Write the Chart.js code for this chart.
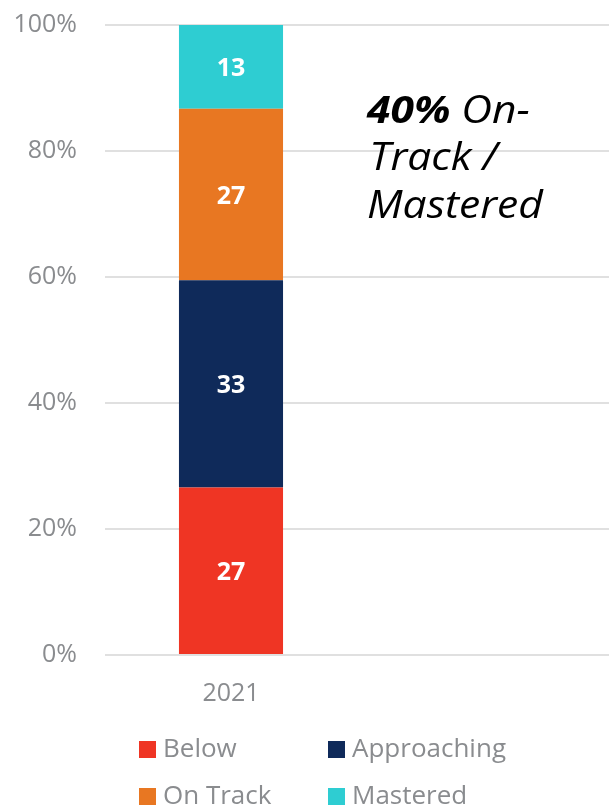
<!DOCTYPE html>
<html>
<head>
<meta charset="utf-8">
<script src="https://cdn.jsdelivr.net/npm/chart.js@4.4.0/dist/chart.umd.min.js"></script>
<style>
html, body { margin: 0; padding: 0; background: #fff; }
#wrap { width: 609px; height: 808px; }
</style>
</head>
<body>
<div id="wrap"><canvas id="myChart"></canvas></div>
<script>
// data
const years = ['2021', ''];
const below = [26.6, null];
const approaching = [32.9, null];
const onTrack = [27.2, null];
const mastered = [13.3, null];
const yTicks = [0, 20, 40, 60, 80, 100];

const grey = '#8a8c8f';
Chart.defaults.font.family = "'Open Sans', sans-serif";

// white numbers in the middle of each segment
const barLabels = {
	id: 'barLabels',
	afterDatasetsDraw(chart) {
		const ctx = chart.ctx;
		ctx.save();
		ctx.font = "bold 25px 'Open Sans'";
		ctx.fillStyle = '#fff';
		ctx.textAlign = 'center';
		ctx.textBaseline = 'middle';
		chart.data.datasets.forEach((ds, i) => {
			chart.getDatasetMeta(i).data.forEach((bar, j) => {
				const v = ds.data[j];
				if (v == null) return;
				ctx.fillText(Math.round(v), bar.x, (bar.y + bar.base) / 2 + 2);
			});
		});
		ctx.restore();
	}
};

// two column legend under the axis
const gridLegend = {
	id: 'gridLegend',
	afterDraw(chart) {
		const ctx = chart.ctx;
		const cols = [139, 328];
		const rows = [749, 796];
		ctx.save();
		ctx.font = "26px 'Open Sans'";
		ctx.textBaseline = 'middle';
		chart.data.datasets.forEach((ds, i) => {
			const x = cols[i % 2];
			const y = rows[Math.floor(i / 2)];
			ctx.fillStyle = ds.backgroundColor;
			ctx.fillRect(x, y - 8, 17, 17);
			ctx.fillStyle = grey;
			ctx.fillText(ds.label, x + 24, y + 1);
		});
		ctx.restore();
	}
};

// callout text (a touch wider than Open Sans italic)
const callout = {
	id: 'callout',
	afterDraw(chart) {
		const ctx = chart.ctx;
		ctx.save();
		ctx.translate(367, 0);
		ctx.scale(1.12, 1);
		ctx.fillStyle = '#000';
		ctx.textBaseline = 'alphabetic';
		ctx.font = "italic bold 38px 'Open Sans'";
		ctx.fillText('40%', 0, 123);
		const w = ctx.measureText('40% ').width;
		ctx.font = "italic 38px 'Open Sans'";
		ctx.fillText('On-', w, 123);
		ctx.fillText('Track /', 2, 170);
		ctx.fillText('Mastered', 0, 218);
		ctx.restore();
	}
};

const ctx = document.getElementById('myChart').getContext('2d');
const myChart = new Chart(ctx, {
	type: 'bar',
	data: {
		labels: years,
		datasets: [
			{ label: 'Below', data: below, backgroundColor: '#ef3524' },
			{ label: 'Approaching', data: approaching, backgroundColor: '#0f2a5a' },
			{ label: 'On Track', data: onTrack, backgroundColor: '#e87722' },
			{ label: 'Mastered', data: mastered, backgroundColor: '#2ecdd2' }
		]
	},
	options: {
		responsive: true,
		maintainAspectRatio: false,
		animation: false,
		categoryPercentage: 1,
		barPercentage: 0.413,
		layout: { padding: { top: 25, right: 0, left: 0, bottom: 0 } },
		plugins: {
			legend: { display: false },
			tooltip: { enabled: false }
		},
		scales: {
			x: {
				stacked: true,
				grid: { display: false },
				border: { display: false },
				ticks: { color: grey, font: { size: 25 }, padding: 16 },
				afterFit: s => { s.height = 153; s.paddingTop = 0; s.paddingBottom = 0; }
			},
			y: {
				stacked: true,
				min: 0,
				max: 100,
				grid: { color: '#e0e0e0', lineWidth: 2, drawTicks: false },
				border: { display: false },
				afterBuildTicks: s => { s.ticks = yTicks.map(v => ({ value: v })); },
				ticks: { color: grey, font: { size: 25 }, padding: 28, callback: v => v + '%' },
				afterFit: s => { s.width = 105; s.paddingTop = 0; s.paddingBottom = 0; }
			}
		}
	},
	plugins: [barLabels, gridLegend, callout]
});
</script>
</body>
</html>
